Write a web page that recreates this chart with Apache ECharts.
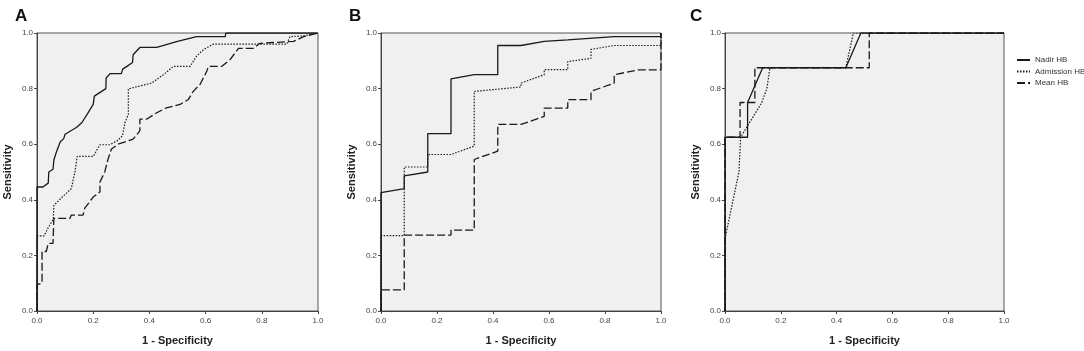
<!DOCTYPE html>
<html>
<head>
<meta charset="utf-8">
<script src="https://cdn.jsdelivr.net/npm/echarts@6/dist/echarts.min.js"></script>
<style>
  html, body { margin: 0; padding: 0; background: #fff; }
  #chart { width: 1084px; height: 351px; }
</style>
</head>
<body>
<div id="chart"></div>
<script>
// ROC curves, [1 - specificity, sensitivity]
const seriesNames = ['Nadir HB', 'Admission HB', 'Mean HB'];
const panelLabels = ['A', 'B', 'C'];
const tickValues = [0, 0.2, 0.4, 0.6, 0.8, 1.0];

const nadirA = [[0,0],[0,0.446],[0.021,0.446],[0.04,0.46],[0.042,0.5],[0.057,0.51],[0.06,0.543],[0.07,0.575],[0.083,0.609],[0.095,0.62],[0.1,0.636],[0.14,0.66],[0.16,0.678],[0.18,0.71],[0.2,0.743],[0.204,0.773],[0.23,0.79],[0.245,0.8],[0.246,0.838],[0.26,0.854],[0.3,0.854],[0.305,0.87],[0.32,0.88],[0.34,0.894],[0.342,0.922],[0.366,0.948],[0.426,0.948],[0.5,0.97],[0.568,0.987],[0.67,0.987],[0.672,1],[1,1]];
const admissionA = [[0,0],[0,0.27],[0.025,0.27],[0.04,0.3],[0.058,0.33],[0.06,0.38],[0.09,0.41],[0.122,0.44],[0.135,0.5],[0.143,0.556],[0.2,0.556],[0.224,0.598],[0.259,0.598],[0.285,0.612],[0.304,0.63],[0.313,0.678],[0.325,0.707],[0.325,0.799],[0.408,0.82],[0.45,0.85],[0.485,0.88],[0.545,0.88],[0.568,0.917],[0.592,0.94],[0.628,0.96],[0.889,0.96],[0.9,0.987],[0.95,0.99],[1,1]];
const meanA = [[0,0],[0,0.095],[0.018,0.1],[0.018,0.214],[0.033,0.214],[0.04,0.243],[0.057,0.243],[0.06,0.333],[0.117,0.333],[0.122,0.345],[0.164,0.345],[0.17,0.37],[0.2,0.41],[0.224,0.428],[0.224,0.464],[0.241,0.5],[0.253,0.547],[0.265,0.583],[0.289,0.6],[0.342,0.618],[0.366,0.648],[0.366,0.69],[0.39,0.69],[0.426,0.713],[0.461,0.731],[0.509,0.743],[0.539,0.761],[0.556,0.79],[0.58,0.815],[0.604,0.862],[0.61,0.88],[0.658,0.88],[0.687,0.904],[0.717,0.945],[0.77,0.945],[0.794,0.963],[0.913,0.97],[0.949,0.987],[1,1]];

const nadirB = [[0,0],[0,0.426],[0.083,0.44],[0.083,0.486],[0.167,0.5],[0.167,0.638],[0.25,0.638],[0.25,0.835],[0.333,0.85],[0.417,0.85],[0.417,0.955],[0.5,0.955],[0.583,0.97],[0.667,0.975],[0.833,0.987],[1,0.987],[1,1]];
const admissionB = [[0,0],[0,0.271],[0.083,0.271],[0.083,0.518],[0.167,0.518],[0.167,0.563],[0.25,0.563],[0.333,0.593],[0.333,0.79],[0.417,0.798],[0.5,0.806],[0.5,0.82],[0.583,0.85],[0.583,0.868],[0.667,0.868],[0.667,0.897],[0.75,0.909],[0.75,0.941],[0.833,0.955],[1,0.955],[1,1]];
const meanB = [[0,0],[0,0.076],[0.083,0.076],[0.083,0.273],[0.25,0.273],[0.25,0.291],[0.333,0.291],[0.333,0.545],[0.417,0.575],[0.417,0.671],[0.5,0.671],[0.583,0.7],[0.583,0.73],[0.667,0.73],[0.667,0.76],[0.75,0.76],[0.75,0.79],[0.833,0.82],[0.833,0.85],[0.917,0.867],[1,0.867],[1,1]];

const nadirC = [[0,0],[0,0.625],[0.081,0.625],[0.081,0.75],[0.135,0.875],[0.433,0.875],[0.487,1],[1,1]];
const admissionC = [[0,0],[0,0.26],[0.05,0.5],[0.056,0.625],[0.131,0.748],[0.15,0.8],[0.161,0.875],[0.433,0.875],[0.46,1],[1,1]];
const meanC = [[0,0],[0,0.625],[0.054,0.625],[0.054,0.75],[0.107,0.75],[0.107,0.875],[0.517,0.875],[0.517,1],[1,1]];

const curves = [
  [nadirA, admissionA, meanA],
  [nadirB, admissionB, meanB],
  [nadirC, admissionC, meanC]
];

const lineTypes = ['solid', [1.5, 1.5], [8, 3]];
const lineWidths = [1.3, 1.2, 1.3];
const gridLefts = [37, 381, 725];
const gridWidths = [281, 280, 279];

const font = 'Liberation Sans, Arial, sans-serif';
const fmt = v => v.toFixed(1);

const grids = gridLefts.map((l, i) => ({
  left: l, top: 33, width: gridWidths[i], height: 280,
  show: true, backgroundColor: '#f0f0f0', borderColor: '#555', borderWidth: 1
}));

const axisCommon = {
  type: 'value', min: 0, max: 1, interval: 0.2,
  splitLine: { show: false },
  axisLine: { show: true, lineStyle: { color: '#444', width: 1 } },
  axisTick: { show: true, length: 3, lineStyle: { color: '#444' } },
  nameTextStyle: { fontSize: 11, fontWeight: 'bold', color: '#222', fontFamily: font }
};
const labelStyle = { fontSize: 8, color: '#444', fontFamily: font, formatter: fmt };

const xAxes = gridLefts.map((_, i) => Object.assign({}, axisCommon, {
  gridIndex: i, name: '1 - Specificity', nameLocation: 'middle', nameGap: 24,
  axisLabel: Object.assign({ margin: 6 }, labelStyle)
}));
const yAxes = gridLefts.map((_, i) => Object.assign({}, axisCommon, {
  gridIndex: i, name: 'Sensitivity', nameLocation: 'middle', nameGap: 24,
  axisLabel: Object.assign({ margin: 4 }, labelStyle)
}));

const series = [];
curves.forEach((set, p) => {
  set.forEach((data, k) => {
    series.push({
      name: seriesNames[k], type: 'line', xAxisIndex: p, yAxisIndex: p,
      data: data, showSymbol: false, symbol: 'none', animation: false,
      lineStyle: { color: '#1a1a1a', width: lineWidths[k], type: lineTypes[k] },
      itemStyle: { color: '#1a1a1a' }, z: 3 - k
    });
  });
});

const chart = echarts.init(document.getElementById('chart'), null, { renderer: 'canvas' });
chart.setOption({
  backgroundColor: '#fff',
  animation: false,
  title: panelLabels.map((t, i) => ({
    text: t, left: [10, 344, 685][i], top: 3,
    textStyle: { fontSize: 17, fontWeight: 'bold', color: '#111', fontFamily: font }
  })),
  legend: {
    data: seriesNames, orient: 'vertical', left: 1016, top: 56, padding: 0,
    itemWidth: 13, itemHeight: 8, itemGap: 3.5,
    itemStyle: { opacity: 0 },
    textStyle: { fontSize: 8, color: '#333', fontFamily: font }
  },
  grid: grids,
  xAxis: xAxes,
  yAxis: yAxes,
  series: series
});
</script>
</body>
</html>
